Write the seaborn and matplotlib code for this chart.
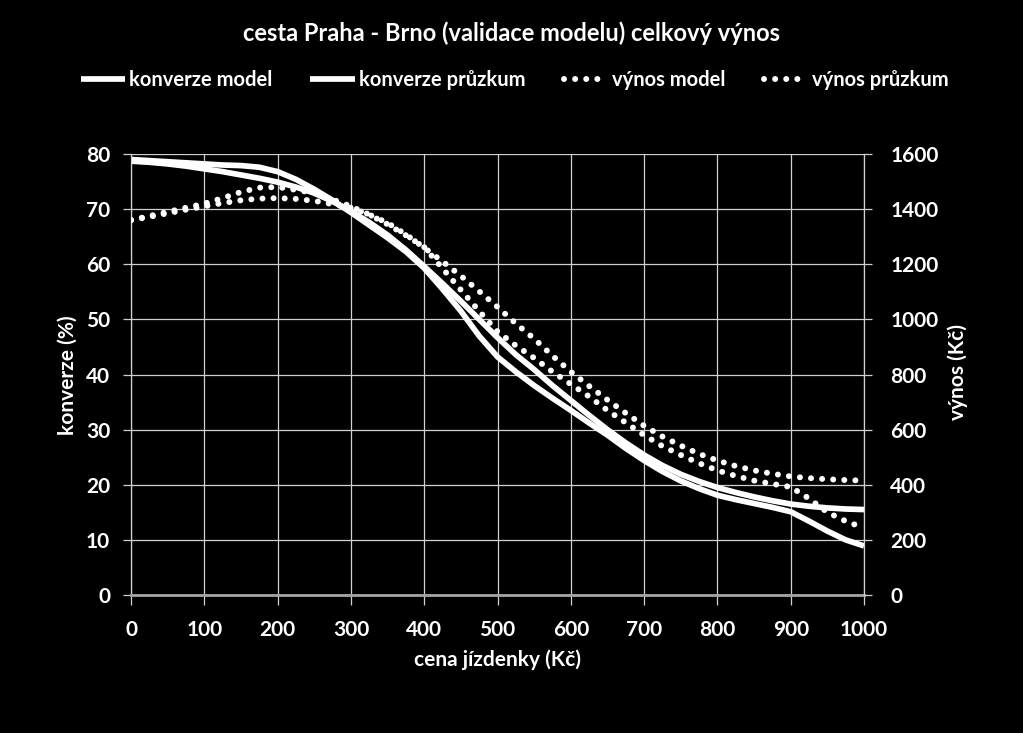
import matplotlib
matplotlib.use("Agg")
import matplotlib.pyplot as plt
import numpy as np
import pandas as pd
import seaborn as sns

# ---------------- data ----------------
cena = [0, 25, 50, 75, 100, 125, 150, 175, 200, 225, 250, 275, 300, 325, 350, 375,
        400, 425, 450, 475, 500, 525, 550, 575, 600, 625, 650, 675, 700, 725, 750,
        775, 800, 825, 850, 875, 900, 925, 950, 975, 1000]

konverze_model = [78.7, 78.5, 78.2, 77.8, 77.3, 76.8, 76.2, 75.6, 74.9, 74.0, 72.9,
                  71.4, 69.6, 67.6, 65.3, 62.6, 59.6, 56.5, 53.3, 50.0, 46.7, 43.6,
                  40.9, 38.0, 35.3, 32.6, 30.0, 27.6, 25.4, 23.5, 21.9, 20.6, 19.5,
                  18.6, 17.8, 17.1, 16.5, 16.1, 15.8, 15.6, 15.5]

konverze_pruzkum = [79.0, 78.8, 78.6, 78.4, 78.2, 78.0, 77.9, 77.6, 76.8, 75.4, 73.6,
                    71.6, 69.4, 67.1, 64.8, 62.3, 59.3, 55.5, 51.5, 47.0, 43.2, 40.5,
                    38.0, 35.7, 33.5, 31.2, 29.0, 26.6, 24.4, 22.4, 20.7, 19.3, 18.1,
                    17.3, 16.6, 15.9, 15.1, 13.4, 11.6, 10.0, 8.9]

vynos_model = [1360, 1372, 1385, 1398, 1410, 1422, 1432, 1438, 1440, 1437, 1430, 1418,
               1405, 1380, 1350, 1308, 1260, 1210, 1158, 1102, 1045, 985, 930, 868,
               810, 758, 708, 660, 614, 575, 542, 512, 488, 468, 452, 440, 430, 424,
               420, 417, 415]

vynos_pruzkum = [1360, 1375, 1390, 1405, 1420, 1440, 1462, 1478, 1480, 1470, 1458, 1435,
                 1410, 1380, 1345, 1305, 1262, 1185, 1107, 1030, 956, 905, 860, 810,
                 765, 720, 670, 625, 580, 540, 508, 478, 452, 432, 415, 403, 392, 350,
                 300, 268, 243]

x_ticks = [0, 100, 200, 300, 400, 500, 600, 700, 800, 900, 1000]
y_ticks = [0, 10, 20, 30, 40, 50, 60, 70, 80]
y2_ticks = [0, 200, 400, 600, 800, 1000, 1200, 1400, 1600]

series_labels = ["konverze model", "konverze průzkum", "výnos model", "výnos průzkum"]
title = "cesta Praha - Brno (validace modelu) celkový výnos"
xlabel = "cena jízdenky (Kč)"
ylabel = "konverze (%)"
y2label = "výnos (Kč)"

df = pd.DataFrame({
    "cena": cena,
    "konverze_model": konverze_model,
    "konverze_pruzkum": konverze_pruzkum,
    "vynos_model": vynos_model,
    "vynos_pruzkum": vynos_pruzkum,
})

# ---------------- style ----------------
sns.set_theme(style="dark")
plt.rcParams["font.family"] = ["Lato", "DejaVu Sans"]
plt.rcParams["font.weight"] = "bold"
plt.rcParams["axes.labelweight"] = "bold"

fig = plt.figure(figsize=(10.23, 7.33), dpi=100, facecolor="black")
ax = fig.add_axes([131 / 1023, 1 - 595 / 733, 733 / 1023, 441 / 733])
ax.set_facecolor("black")
ax2 = ax.twinx()
ax2.patch.set_visible(False)

solid_lw = 4.1
dot_lw = 4.3
dot_style = (0, (0.01, 1.85))

sns.lineplot(data=df, x="cena", y="konverze_model", ax=ax, color="white",
             linewidth=solid_lw, legend=False, solid_capstyle="butt")
sns.lineplot(data=df, x="cena", y="konverze_pruzkum", ax=ax, color="white",
             linewidth=solid_lw, legend=False, solid_capstyle="butt")
sns.lineplot(data=df, x="cena", y="vynos_model", ax=ax2, color="white",
             linewidth=dot_lw, linestyle=dot_style, dash_capstyle="round", legend=False)
sns.lineplot(data=df, x="cena", y="vynos_pruzkum", ax=ax2, color="white",
             linewidth=dot_lw, linestyle=dot_style, dash_capstyle="round", legend=False)

ax.set_xlim(0, 1000)
ax.set_ylim(0, 80)
ax2.set_ylim(0, 1600)
ax.set_xticks(x_ticks)
ax.set_yticks(y_ticks)
ax2.set_yticks(y2_ticks)
ax.set_xlabel("")
ax.set_ylabel("")
ax2.set_ylabel("")

grid_c = "#D0D0D0"
ax.grid(True, color=grid_c, linewidth=0.9)
ax.set_axisbelow(True)
ax2.grid(False)

for s in ["top", "right"]:
    ax.spines[s].set_visible(False)
ax.spines["left"].set_color(grid_c)
ax.spines["left"].set_linewidth(0.9)
ax.spines["bottom"].set_color("#A6A6A6")
ax.spines["bottom"].set_linewidth(2.0)
for s in ["top", "left", "bottom"]:
    ax2.spines[s].set_visible(False)
ax2.spines["right"].set_color(grid_c)
ax2.spines["right"].set_linewidth(0.9)

fs = 15
ax.tick_params(axis="y", direction="out", length=6, width=0.9, color=grid_c,
               labelcolor="white", labelsize=fs, pad=9, left=True)
ax.tick_params(axis="x", direction="out", length=7, width=0.9, color=grid_c,
               labelcolor="white", labelsize=fs, pad=11, bottom=True)
ax2.tick_params(axis="y", direction="out", length=6, width=0.9, color=grid_c,
                labelcolor="white", labelsize=fs, pad=13, right=True)

# texts
fig.text(0.5, 1 - 33 / 733, title, ha="center", va="center", color="white",
         fontsize=17, fontweight="bold")
fig.text(497 / 1023, 1 - 660 / 733, xlabel, ha="center", va="center", color="white",
         fontsize=fs, fontweight="bold")
fig.text(68 / 1023, 1 - 375 / 733, ylabel, ha="center", va="center", color="white",
         fontsize=fs, fontweight="bold", rotation=90)
fig.text(958 / 1023, 1 - 372 / 733, y2label, ha="center", va="center", color="white",
         fontsize=fs, fontweight="bold", rotation=90)

handles = [ax.lines[0], ax.lines[1], ax2.lines[0], ax2.lines[1]]
leg = fig.legend(handles, series_labels, loc="center", bbox_to_anchor=(0.503, 1 - 80 / 733),
                 ncol=4, frameon=False, handlelength=2.2, columnspacing=1.9,
                 handletextpad=0.2, fontsize=14.5, labelcolor="white")

fig.savefig("out.png", dpi=100, facecolor="black")
